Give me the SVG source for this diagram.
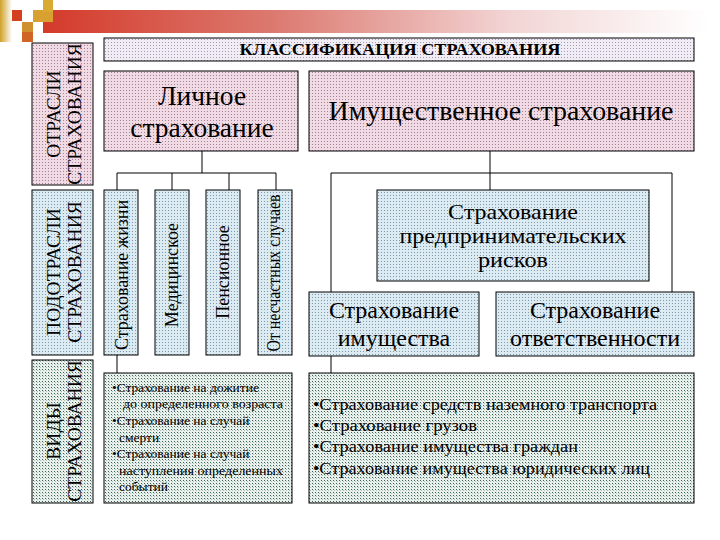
<svg xmlns="http://www.w3.org/2000/svg" width="720" height="540" viewBox="0 0 720 540">
<defs>
<linearGradient id="bar" x1="0" y1="0" x2="1" y2="0">
<stop offset="0" stop-color="#d43a2a"/>
<stop offset="0.35" stop-color="#dc7a70"/>
<stop offset="0.7" stop-color="#f2d4d4"/>
<stop offset="1" stop-color="#ffffff"/>
</linearGradient>
<linearGradient id="goldv" x1="0" y1="0" x2="1" y2="0">
<stop offset="0" stop-color="#d0a028"/>
<stop offset="1" stop-color="#ffffff"/>
</linearGradient>
<pattern id="pPink" width="3" height="3" patternUnits="userSpaceOnUse">
<rect width="3" height="3" fill="#f0dae4"/>
<rect x="0" y="0" width="1" height="1" fill="#a88096"/>
</pattern>
<pattern id="pTitle" width="3" height="3" patternUnits="userSpaceOnUse">
<rect width="3" height="3" fill="#f1edf4"/>
<rect x="0" y="0" width="1" height="1" fill="#a898b8"/>
</pattern>
<pattern id="pBlue" width="3" height="3" patternUnits="userSpaceOnUse">
<rect width="3" height="3" fill="#dceaf2"/>
<rect x="0" y="0" width="1" height="1" fill="#7e98ac"/>
</pattern>
<pattern id="pTeal" width="3" height="3" patternUnits="userSpaceOnUse">
<rect width="3" height="3" fill="#eaf0ec"/>
<rect x="0" y="0" width="1" height="1" fill="#3a605a"/>
<rect x="1" y="1" width="1" height="1" fill="#a8bfb8"/>
</pattern>
</defs>
<style>
.box{stroke:#000;stroke-width:1}
.pink{fill:url(#pPink)}
.title{fill:url(#pTitle)}
.blue{fill:url(#pBlue)}
.teal{fill:url(#pTeal)}
text{font-family:"Liberation Serif","Times New Roman",serif;fill:#000}
.big{font-size:27.5px;text-anchor:middle}
.mid{font-size:24px;text-anchor:middle}
.mid2{font-size:21px;text-anchor:middle}
.vert{font-size:19.5px;text-anchor:middle}
.sub{font-size:18px;text-anchor:middle}
.small{font-size:13.5px}
.list{font-size:17px}
.conn line{stroke:#000;stroke-width:1}
</style>

<g id="decoration">
<rect x="43" y="10" width="665" height="23" fill="url(#bar)"/>
<rect x="0" y="0" width="12" height="42" fill="url(#goldv)"/>
<rect x="12" y="10" width="10" height="11" fill="#d44020"/>
<rect x="33" y="10" width="20" height="12" fill="#d8a030"/>
<rect x="43" y="0" width="10" height="12" fill="#d8aa34"/>
<rect x="22" y="22" width="11" height="10" fill="#d09030"/>
<rect x="22" y="32" width="11" height="10" fill="#d06424"/>
</g>

<g class="conn" id="connectors">
<line x1="202" y1="151" x2="202" y2="173"/>
<line x1="117" y1="173" x2="276" y2="173"/>
<line x1="117" y1="173" x2="117" y2="190"/>
<line x1="172" y1="173" x2="172" y2="190"/>
<line x1="229" y1="173" x2="229" y2="190"/>
<line x1="276" y1="173" x2="276" y2="190"/>
<line x1="117" y1="355" x2="117" y2="373"/>
<line x1="490" y1="151" x2="490" y2="190"/>
<line x1="331" y1="173" x2="672" y2="173"/>
<line x1="331" y1="173" x2="331" y2="292"/>
<line x1="672" y1="173" x2="672" y2="292"/>
<line x1="331" y1="356" x2="331" y2="373"/>
</g>

<g id="otrasli">
<rect class="box pink" x="32" y="43" width="61" height="142"/>
<g transform="translate(0,114) rotate(-90)">
<text class="vert" x="0" y="60">ОТРАСЛИ</text>
<text class="vert" x="0" y="81">СТРАХОВАНИЯ</text>
</g>
</g>

<g id="podotrasli">
<rect class="box blue" x="32" y="190" width="61" height="165"/>
<g transform="translate(0,272) rotate(-90)">
<text class="vert" x="0" y="60">ПОДОТРАСЛИ</text>
<text class="vert" x="0" y="81">СТРАХОВАНИЯ</text>
</g>
</g>

<g id="vidy">
<rect class="box teal" x="32" y="360" width="61" height="143"/>
<g transform="translate(0,431) rotate(-90)">
<text class="vert" x="0" y="60">ВИДЫ</text>
<text class="vert" x="0" y="81">СТРАХОВАНИЯ</text>
</g>
</g>

<g id="title">
<rect class="box title" x="104" y="38" width="590" height="23"/>
<text x="400" y="55" font-size="17.5" font-weight="bold" text-anchor="middle" textLength="321" lengthAdjust="spacingAndGlyphs">КЛАССИФИКАЦИЯ СТРАХОВАНИЯ</text>
</g>

<g id="lichnoe">
<rect class="box pink" x="104" y="71" width="194" height="80"/>
<text class="big" x="202" y="105">Личное</text>
<text class="big" x="202" y="137">страхование</text>
</g>

<g id="imushchestvennoe">
<rect class="box pink" x="309" y="71" width="385" height="80"/>
<text class="big" x="501" y="120" textLength="345" lengthAdjust="spacingAndGlyphs">Имущественное страхование</text>
</g>

<g id="zhizni">
<rect class="box blue" x="104" y="190" width="34" height="165"/>
<text class="sub" transform="translate(0,275) rotate(-90)" x="0" y="128" textLength="150" lengthAdjust="spacingAndGlyphs">Страхование жизни</text>
</g>

<g id="medicinskoe">
<rect class="box blue" x="155" y="190" width="34" height="165"/>
<text class="sub" transform="translate(0,275) rotate(-90)" x="0" y="178">Медицинское</text>
</g>

<g id="pensionnoe">
<rect class="box blue" x="206" y="190" width="34" height="165"/>
<text class="sub" transform="translate(0,272) rotate(-90)" x="0" y="229">Пенсионное</text>
</g>

<g id="neschastnyh">
<rect class="box blue" x="258" y="190" width="34" height="165"/>
<text class="sub" transform="translate(0,273) rotate(-90)" x="0" y="280" textLength="157" lengthAdjust="spacingAndGlyphs">От несчастных случаев</text>
</g>

<g id="predprinim">
<rect class="box blue" x="377" y="190" width="272" height="91"/>
<text class="mid2" x="513" y="219" textLength="130" lengthAdjust="spacingAndGlyphs">Страхование</text>
<text class="mid2" x="513" y="243" textLength="227" lengthAdjust="spacingAndGlyphs">предпринимательских</text>
<text class="mid2" x="513" y="267" textLength="70" lengthAdjust="spacingAndGlyphs">рисков</text>
</g>

<g id="imushchestva">
<rect class="box blue" x="309" y="292" width="170" height="64"/>
<text class="mid" x="394" y="318">Страхование</text>
<text class="mid" x="394" y="346">имущества</text>
</g>

<g id="otvetstvennosti">
<rect class="box blue" x="496" y="292" width="198" height="64"/>
<text class="mid" x="595" y="318">Страхование</text>
<text class="mid" x="595" y="346">ответственности</text>
</g>

<g id="vidy-lichnoe">
<rect class="box teal" x="104" y="373" width="188" height="130"/>
<text class="small" x="112" y="392">•Страхование на дожитие</text>
<text class="small" x="123" y="408" textLength="160" lengthAdjust="spacingAndGlyphs">до определенного возраста</text>
<text class="small" x="112" y="425">•Страхование на случай</text>
<text class="small" x="119" y="442">смерти</text>
<text class="small" x="112" y="458">•Страхование на случай</text>
<text class="small" x="119" y="475" textLength="164" lengthAdjust="spacingAndGlyphs">наступления определенных</text>
<text class="small" x="119" y="491">событий</text>
</g>

<g id="vidy-imushch">
<rect class="box teal" x="309" y="373" width="385" height="130"/>
<text class="list" x="313" y="410" textLength="344" lengthAdjust="spacingAndGlyphs">•Страхование средств наземного транспорта</text>
<text class="list" x="313" y="431" textLength="164" lengthAdjust="spacingAndGlyphs">•Страхование грузов</text>
<text class="list" x="313" y="452" textLength="265" lengthAdjust="spacingAndGlyphs">•Страхование имущества граждан</text>
<text class="list" x="313" y="474" textLength="337" lengthAdjust="spacingAndGlyphs">•Страхование имущества юридических лиц</text>
</g>
</svg>
